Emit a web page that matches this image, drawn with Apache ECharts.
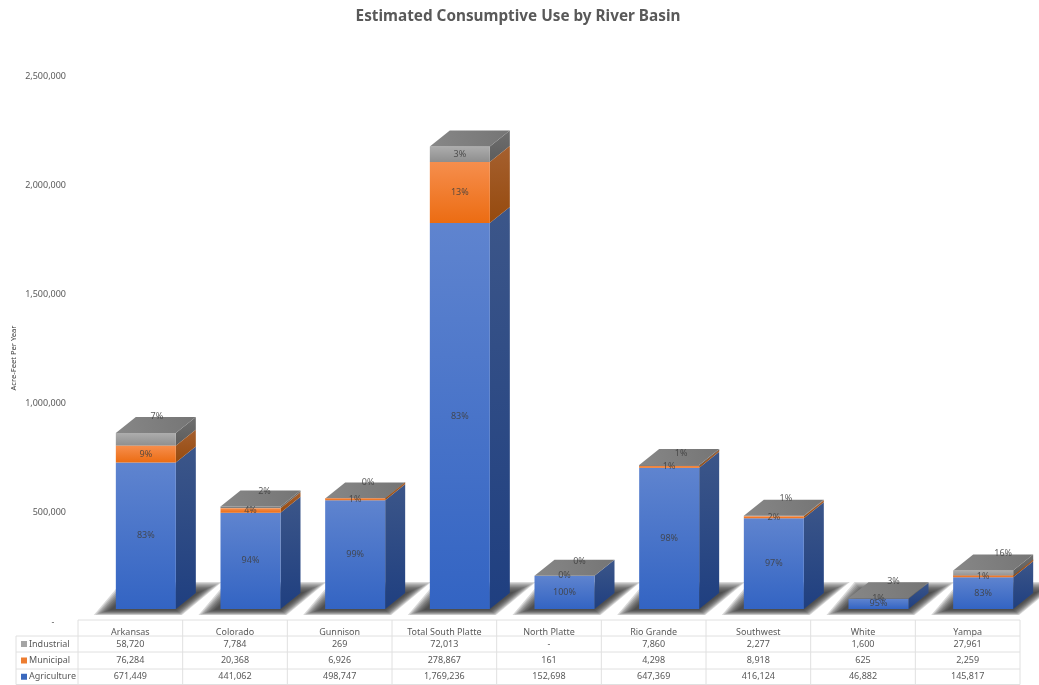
<!DOCTYPE html>
<html><head><meta charset="utf-8">
<style>html,body{margin:0;padding:0;background:#fff}#c{width:1039px;height:685px}</style>
<script src="https://cdn.jsdelivr.net/npm/echarts@6/dist/echarts.min.js"></script>
</head><body><div id="c"></div>
<script>
const categories = ['Arkansas','Colorado','Gunnison','Total South Platte','North Platte','Rio Grande','Southwest','White','Yampa'];
const agriculture = [671449,441062,498747,1769236,152698,647369,416124,46882,145817];
const municipal = [76284,20368,6926,278867,161,4298,8918,625,2259];
const industrial = [58720,7784,269,72013,0,7860,2277,1600,27961];
const agriculturePct = ['83%','94%','99%','83%','100%','98%','97%','95%','83%'];
const municipalPct = ['9%','4%','1%','13%','0%','1%','2%','1%','1%'];
const industrialPct = ['7%','2%','0%','3%','0%','1%','1%','3%','16%'];
const yTicks = [0,500000,1000000,1500000,2000000,2500000];

// label placement of the top percentage (pixels from the front-top of the bar)
const topLabelShift = [[11,-17],[14,-15],[13,-16],[0,8],[15,-14],[12,-12],[12,-17],[15,-17],[20,-17]];
const FONT='"Noto Sans"';
const W=60, DX=20, DY=16, SHIFT=15.5;
const fmt=v=>v===0?'-':v.toLocaleString('en-US');
const cols={
  Agriculture:{f:['#5f84cf','#3364c3'],s:['#3c5689','#1f3f80'],k:'#3a68bd'},
  Municipal:{f:['#f68e4d','#ec6c12'],s:['#a5602f','#964a0e'],k:'#ed7d31'},
  Industrial:{f:['#adadad','#8e8e8e'],s:['#6f6f6f','#5c5c5c'],k:'#a5a5a5'}
};
const grad=c=>({type:'linear',x:0,y:0,x2:0,y2:1,colorStops:[{offset:0,color:c[0]},{offset:1,color:c[1]}]});

function seg(name,vals,below,pcts,isTop){
  return {type:'custom',name,z:3,clip:false,
    data:vals.map((v,i)=>[i,below[i],below[i]+v]),
    encode:{x:0,y:[1,2]},
    renderItem(p,api){
      const i=api.value(0),a=api.coord([i,api.value(1)]),b=api.coord([i,api.value(2)]);
      const x0=a[0]+SHIFT-W/2,x1=x0+W,y1=a[1],ch=[];
      let y0=b[1];
      const thin=isTop&&(y1-y0)<4;
      // hairline municipal shares stay visible as a line, as in the source picture
      if(name==='Municipal'&&vals[i]>1000&&(y1-y0)<1.8) y0=y1-1.8;
      const c=thin?{f:['#808080','#808080'],s:['#6a6a6a','#6a6a6a']}:cols[name];
      ch.push({type:'polygon',shape:{points:[[x1,y0],[x1+DX,y0-DY],[x1+DX,y1-DY],[x1,y1]]},style:{fill:grad(c.s)}});
      ch.push({type:'rect',shape:{x:x0,y:y0,width:W,height:y1-y0},style:{fill:grad(c.f)}});
      if(isTop) ch.push({type:'polygon',shape:{points:[[x0,y0],[x0+DX,y0-DY],[x1+DX,y0-DY],[x1,y0]]},style:{fill:{type:'linear',x:0,y:1,x2:1,y2:0,colorStops:[{offset:0,color:'#878787'},{offset:1,color:'#757575'}]}}});
      let lx=x0+W/2,ly=(y0+y1)/2;
      if(isTop){lx+=topLabelShift[i][0];ly=y0+topLabelShift[i][1];}
      ch.push({type:'text',z2:50,style:{x:lx,y:ly,text:pcts[i],fill:'#404040',font:'9px '+FONT,align:'center',verticalAlign:'middle',opacity:.85}});
      return {type:'group',children:ch};
    }};
}
const zero=categories.map(()=>0);
const s2=agriculture.map((v,i)=>v+municipal[i]);

// soft floor shadow: stacked translucent outlines, widest first
const lerpPt=(p,q,t)=>[p[0]+(q[0]-p[0])*t,p[1]+(q[1]-p[1])*t];
const shadow={type:'custom',name:'floor',z:1,clip:false,silent:true,
  data:categories.map((c,i)=>[i,0]),encode:{x:0,y:1},
  renderItem(p,api){
    const a=api.coord([api.value(0),0]),x0=a[0]+SHIFT-W/2,y=a[1],x1=x0+W;
    const outer=[[x0-22,y+6],[x1+6,y+6],[x1+46,y-27],[x0+6,y-27]];
    const inner=[[x0-6,y+1],[x1,y+1],[x1+24,y-17],[x0+14,y-17]];
    const ch=[];
    for(let k=0;k<9;k++){
      const t=k/8;
      ch.push({type:'polygon',shape:{points:outer.map((o,j)=>lerpPt(o,inner[j],t))},style:{fill:'rgba(50,50,50,.19)'}});
    }
    return {type:'group',children:ch};
  }};

const rows=[['Industrial',industrial],['Municipal',municipal],['Agriculture',agriculture]];
const tableTop=620,rowH=[16,16,17,15.5],tL=78,tR=1020,kL=16;
const LINE='#e0e0e0';
const table={type:'custom',name:'table',z:4,clip:false,silent:true,
  data:categories.map((c,i)=>[i,0]),encode:{x:0,y:1},
  renderItem(p,api){
    const i=api.value(0),cx=api.coord([i,0])[0],cw=api.size([1,0])[0],ch=[];
    let y=tableTop+rowH[0];
    rows.forEach((r,k)=>{
      const h=rowH[k+1];
      ch.push({type:'text',style:{x:cx,y:y+h/2,text:fmt(r[1][i]),fill:'#595959',font:'9px '+FONT,align:'center',verticalAlign:'middle'}});
      y+=h;
    });
    const line=(x1,y1,x2,y2)=>({type:'line',shape:{x1,y1,x2,y2},style:{stroke:LINE,lineWidth:1}});
    ch.push(line(cx+cw/2,tableTop,cx+cw/2,y));
    if(i===0){
      ch.push(line(cx-cw/2,tableTop,cx-cw/2,y));
      ch.push(line(kL,tableTop+rowH[0],kL,y));
      ch.push(line(tL,tableTop,tR,tableTop));
      let yy=tableTop+rowH[0];
      rows.forEach((r,k)=>{
        const h=rowH[k+1];
        ch.push(line(kL,yy,tR,yy));
        ch.push({type:'rect',shape:{x:21,y:yy+h/2-3,width:6,height:6},style:{fill:cols[r[0]].k}});
        ch.push({type:'text',style:{x:29,y:yy+h/2,text:r[0],fill:'#595959',font:'9px '+FONT,align:'left',verticalAlign:'middle'}});
        yy+=h;
      });
      ch.push(line(kL,yy,tR,yy));
    }
    return {type:'group',children:ch};
  }};

const chart=echarts.init(document.getElementById('c'),null,{renderer:'canvas'});
chart.setOption({
  animation:false,backgroundColor:'#fff',
  title:{text:'Estimated Consumptive Use by River Basin',left:513,top:4,textAlign:'center',
    textStyle:{fontFamily:FONT,fontSize:15.3,fontWeight:'bold',color:'#595959'}},
  grid:{left:78,right:19,top:63.5,height:545.5,containLabel:false},
  xAxis:{type:'category',data:categories,axisLine:{show:false},axisTick:{show:false},
    axisLabel:{interval:0,margin:19,color:'#595959',fontFamily:FONT,fontSize:9}},
  yAxis:{type:'value',min:0,max:2500000,interval:500000,
    axisLine:{show:false},axisTick:{show:false},splitLine:{show:false},
    axisLabel:{margin:12,color:'#595959',fontFamily:FONT,fontSize:9,verticalAlign:'top',lineHeight:26,
      formatter:v=>v===0?'-\u00a0\u00a0\u00a0\u00a0\u00a0':fmt(v)}},
  graphic:[{type:'text',x:14,y:358,rotation:Math.PI/2,
    style:{text:'Acre-Feet Per Year',fill:'#404040',font:'7.6px '+FONT,align:'center',verticalAlign:'middle'}}],
  series:[shadow,
    seg('Agriculture',agriculture,zero,agriculturePct,false),
    seg('Industrial',industrial,s2,industrialPct,true),
    seg('Municipal',municipal,agriculture,municipalPct,false),
    table]
});
</script></body></html>
